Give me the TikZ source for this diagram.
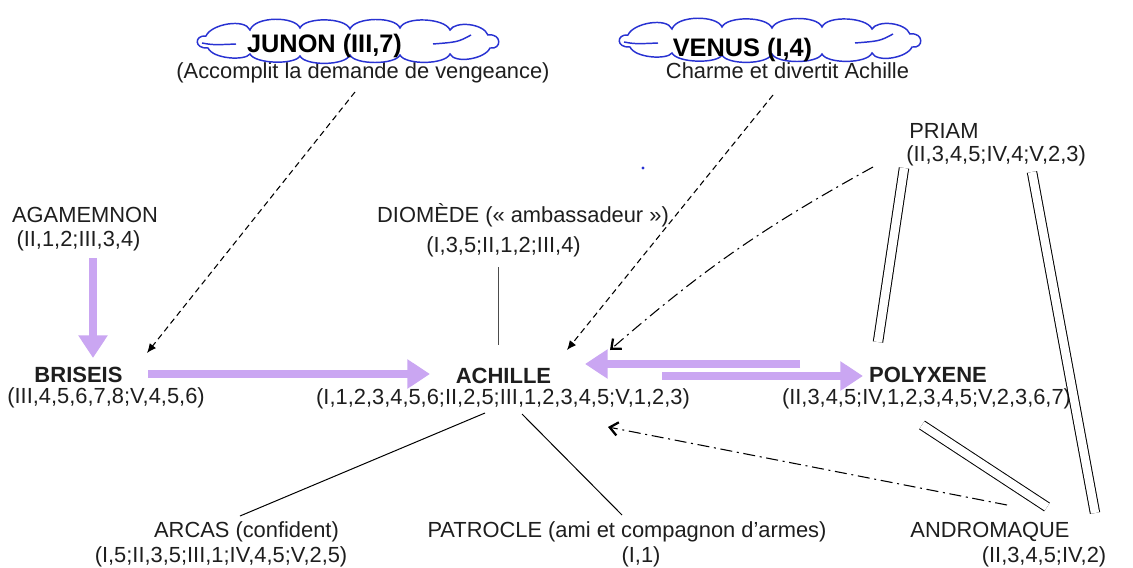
\documentclass[tikz,border=0pt]{standalone}
\usepackage{fontspec}
\setmainfont{Liberation Sans}
\usetikzlibrary{arrows.meta,calc}
\definecolor{lav}{RGB}{202,166,242}
\definecolor{ink}{RGB}{30,30,30}
\definecolor{cloudblue}{RGB}{40,50,210}
\tikzset{
  txt/.style={font=\fontsize{16.4}{19}\selectfont, inner sep=0pt, anchor=base, text=ink},
  bname/.style={txt, font=\fontsize{16.5}{19}\selectfont\bfseries},
  godname/.style={txt, font=\fontsize{19}{22}\selectfont\bfseries, text=black},
  curl/.style={draw=cloudblue, line width=1.1pt},
  godcloud/.pic={
    \draw[curl, fill=white]
      (-142,-5) .. controls (-137,-17) and (-103,-23) .. (-98,-11)
      .. controls (-93,-25) and (-53,-25) .. (-48,-13)
      .. controls (-43,-24) and (-3,-24) .. (2,-12)
      .. controls (7,-24) and (47,-25) .. (52,-13)
      .. controls (57,-25) and (97,-23) .. (102,-11)
      .. controls (107,-20) and (135,-18) .. (140,-6)
      .. controls (154,-8) and (154,9) .. (142,7)
      .. controls (137,18) and (107,23) .. (102,13)
      .. controls (97,24) and (57,24) .. (52,14)
      .. controls (47,24) and (7,24) .. (2,14)
      .. controls (-3,25) and (-43,25) .. (-48,15)
      .. controls (-53,24) and (-93,23) .. (-98,13)
      .. controls (-103,20) and (-135,18) .. (-140,7)
      .. controls (-154,8) and (-154,-6) .. (-142,-5) -- cycle;
    \draw[curl] (-146,2) .. controls (-135,4) .. (-112,3);
    \draw[curl] (85,3) .. controls (110,1) .. (123,-6);
  },
  bigarrow/.style={draw=lav, line width=6pt, -{Triangle[length=17pt,width=21pt]}},
  dasharrow/.style={draw=black, line width=0.8pt, dash pattern=on 4.5pt off 3pt, -{Latex[length=7pt,width=6pt]}},
  dotarrow/.style={draw=black, line width=0.8pt, dash pattern=on 9pt off 3.5pt on 1.5pt off 3.5pt,
     -{Straight Barb[length=6pt,width=10pt,line width=1.7pt]}},
  plain/.style={draw=black, line width=0.75pt},
  grayline/.style={draw=black!70, line width=0.75pt},
  dbl/.style={draw=black, line width=0.75pt, double=white, double distance=6.3pt},
}
\begin{document}
\begin{tikzpicture}[x=0.75pt,y=-0.75pt]
\useasboundingbox[fill=white] (0,0) rectangle (1133,568);

% gods: subtitles first, then clouds over them
\node[txt] (junS) at (363,78) {(Accomplit la demande de vengeance)};
\node[txt] (venS) at (787.5,78) {Charme et divertit Achille};
\pic at (348,41) {godcloud};
\pic at (770,40) {godcloud};
\node[godname] (jun) at (324.5,52) {JUNON (III,7)};
\node[godname] (ven) at (742.5,56) {VENUS (I,4)};

% characters
\node[txt] (aga) at (85,222) {AGAMEMNON};
\node[txt] (agaR) at (78.5,246) {(II,1,2;III,3,4)};
\node[bname] (bri) at (78.5,382) {BRISEIS};
\node[txt] (briR) at (106,403) {(III,4,5,6,7,8;V,4,5,6)};
\node[txt] (dio) at (523,222) {DIOMÈDE (« ambassadeur »)};
\node[txt] (dioR) at (503.5,252) {(I,3,5;II,1,2;III,4)};
\node[bname] (ach) at (503.5,383) {ACHILLE};
\node[txt] (achR) at (503,404) {(I,1,2,3,4,5,6;II,2,5;III,1,2,3,4,5;V,1,2,3)};
\node[bname] (pol) at (928,382) {POLYXENE};
\node[txt] (polR) at (926.5,404) {(II,3,4,5;IV,1,2,3,4,5;V,2,3,6,7)};
\node[txt, anchor=base west] (pri) at (909,138) {PRIAM};
\node[txt, anchor=base west] (priR) at (906,161) {(II,3,4,5;IV,4;V,2,3)};
\node[txt] (arc) at (246.5,537) {ARCAS (confident)};
\node[txt] (arcR) at (221,562) {(I,5;II,3,5;III,1;IV,4,5;V,2,5)};
\node[txt] (pat) at (627,537) {PATROCLE (ami et compagnon d'armes)};
\node[txt] (patR) at (641,562) {(I,1)};
\node[txt] (andN) at (990,537) {ANDROMAQUE};
\node[txt] (andR) at (1044,562) {(II,3,4,5;IV,2)};

% stray blue dot
\fill[cloudblue] (643,168) circle (1.6);

% purple arrows
\draw[bigarrow] ($(agaR.base)+(14.5,12)$) -- ($(bri.base)+(14.5,-24)$);
\draw[bigarrow] ($(bri.base)+(69.5,-8)$) -- ($(ach.base)+(-73.5,-9)$);
\draw[bigarrow] ($(pol.base)+(-128,-18)$) -- ($(ach.base)+(81.5,-19)$);
\draw[bigarrow] ($(ach.base)+(158.5,-7)$) -- ($(pol.base)+(-65,-6)$);

% dashed arrows from the gods
\draw[dasharrow] ($(junS.base)+(-8,14)$) -- ($(bri.base)+(68.5,-29)$);
\draw[dasharrow] ($(venS.base)+(-14.5,17)$) -- ($(ach.base)+(63.5,-33)$);

% dash-dot arrows
\draw[dotarrow] ($(priR.base west)+(-33,6)$) to[bend right=6] ($(ach.base)+(106.5,-33)$);
\draw[dotarrow] ($(andN.base)+(17,-32)$) -- ($(achR.base)+(105,23)$);

% plain links
\draw[grayline] ($(dioR.base)+(-5.5,15)$) -- ($(ach.base)+(-5.5,-38)$);
\draw[plain] ($(achR.base)+(-18,9)$) -- ($(arc.base)+(-6.5,-21)$);
\draw[plain] ($(achR.base)+(19,10)$) -- ($(pat.base)+(-5,-22)$);

% double links
\draw[dbl] ($(priR.base west)+(-2,7)$) -- ($(pol.base)+(-50,-40)$);
\draw[dbl] ($(polR.base)+(-4.5,21)$) -- ($(andN.base)+(57,-30)$);
\draw[dbl] ($(priR.base west)+(126,11)$) -- ($(andR.base)+(51,-49)$);
\end{tikzpicture}
\end{document}
